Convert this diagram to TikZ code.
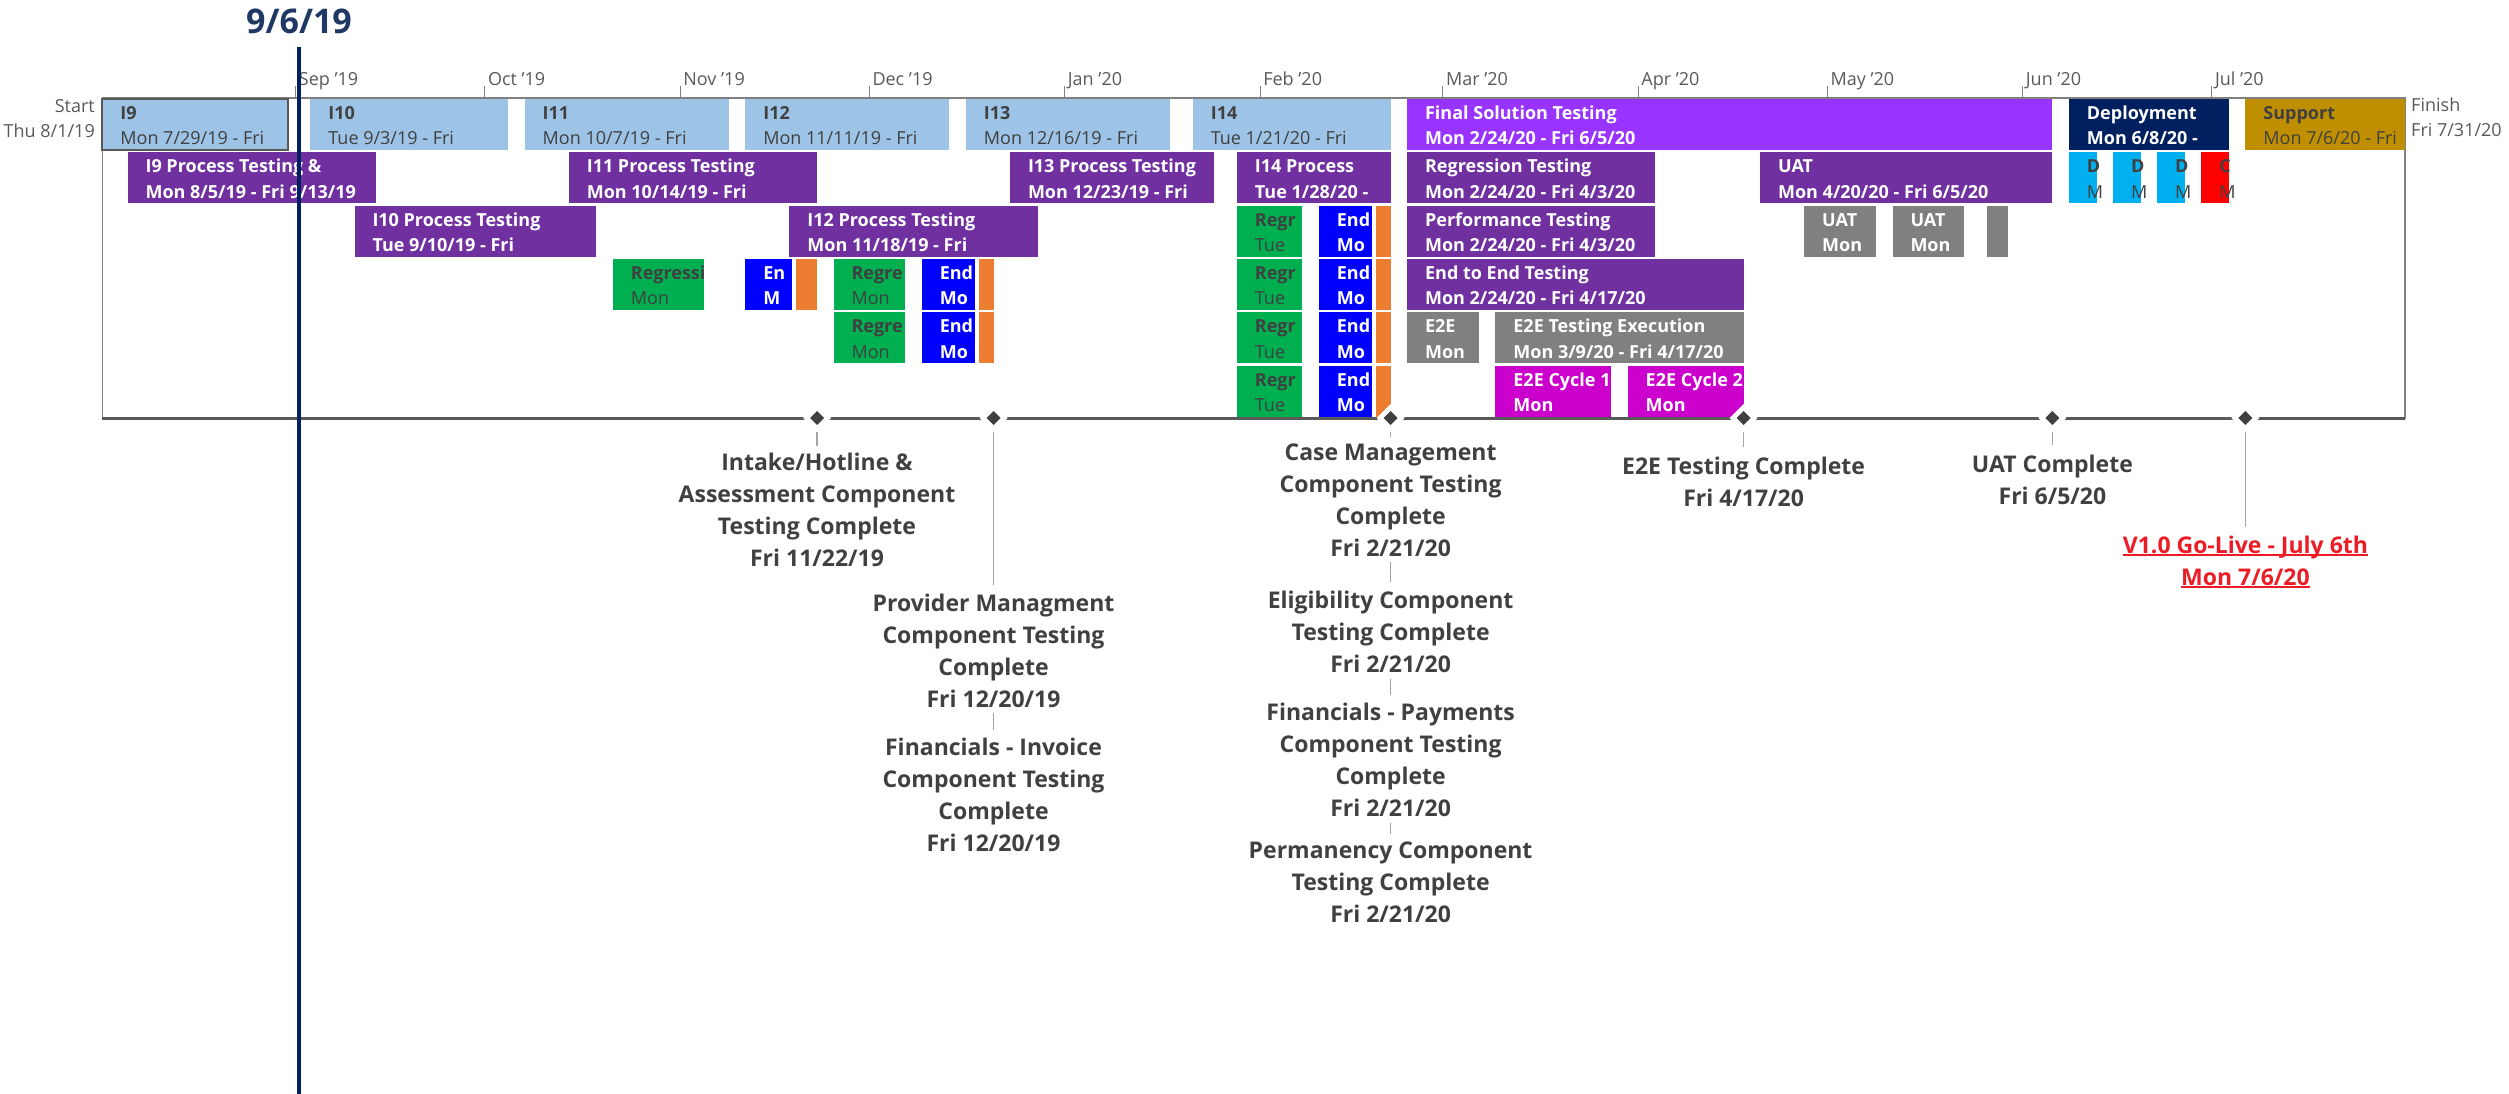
\documentclass[tikz,border=0pt]{standalone}
\usepackage{fontspec}
\setmainfont{Open Sans}
\usetikzlibrary{calc}
\definecolor{lb}{HTML}{9DC3E6}
\definecolor{pu}{HTML}{7030A0}
\definecolor{bp}{HTML}{9933FF}
\definecolor{nv}{HTML}{002060}
\definecolor{gd}{HTML}{BF8F00}
\definecolor{gn}{HTML}{00B050}
\definecolor{bl}{HTML}{0000FF}
\definecolor{og}{HTML}{ED7D31}
\definecolor{gy}{HTML}{808080}
\definecolor{mg}{HTML}{CC00CC}
\definecolor{cy}{HTML}{00B0F0}
\definecolor{rd}{HTML}{FF0000}
\definecolor{td}{HTML}{404040}
\definecolor{ax}{HTML}{595959}
\definecolor{ld}{HTML}{A6A6A6}
\definecolor{gl}{HTML}{ED1C24}
\definecolor{nowt}{HTML}{1F3864}
\newcommand\bfs{\fontsize{18}{22}\selectfont}
\newcommand\mfs{\fontsize{23}{32}\selectfont}
\newcommand\ap{\char"27\relax}
\newcommand\myul[1]{\setbox0=\hbox{#1}\rlap{\rule[-3pt]{\wd0}{1.8pt}}\box0}
\tikzset{
 gbox/.style={inner sep=0pt, outer sep=0pt, minimum height=51pt, draw=none},
 btxt/.style={inner sep=0pt, outer sep=0pt},
 lta/.style={text=td, font=\bfs\bfseries},
 ltb/.style={text=td, font=\bfs},
 wta/.style={text=white, font=\bfs\bfseries},
 wtb/.style={text=white, font=\bfs\bfseries},
 mlab/.style={inner sep=0pt, text=ax, font=\bfs},
 tickline/.style={draw=gy, line width=1.2pt},
 framebox/.style={draw=gy, line width=1.6pt, inner sep=0pt, outer sep=0pt, minimum width=2302.6pt, minimum height=320pt},
 axisline/.style={draw=ax, line width=3pt},
 leader/.style={draw=ld, line width=1.5pt},
 mslab/.style={inner sep=0pt, align=center, text=td, font=\mfs\bfseries, anchor=north},
 selb/.style={draw=ax, line width=2pt},
}
\newcommand\mkbar[8]{%
  \node[gbox, fill=#5, minimum width={#3-#2}, anchor=north west] (#1) at (#2,#4) {};
  \node[btxt, #6a, anchor=base west] (#1a) at ($(#1.north west)+(18,20.5)$) {#7};
  \node[btxt, #6b, anchor=base west] (#1b) at ($(#1.north west)+(18,46)$) {#8};
}
\newcommand\mkmonth[3]{%
  \coordinate (#1) at (#2,97);
  \draw[tickline] (#1) -- ++(0,-11);
  \node[mlab, anchor=base west] (#1l) at ($(#1)+(3,-11.5)$) {#3};
}
\newcommand\mkms[2]{%
  \coordinate (#1) at (#2,418);
  \fill[white] (#1) +(-14,0) -- +(0,-14) -- +(14,0) -- +(0,14) -- cycle;
  \fill[td] (#1) +(-7,0) -- +(0,-7) -- +(7,0) -- +(0,7) -- cycle;
}
\begin{document}
\begin{tikzpicture}[x=1pt,y=-1pt]
\useasboundingbox (0,0) rectangle (2509,1094);
% frame
\node[framebox, anchor=north west] (frame) at (102.4,98) {};
% month ticks
\mkmonth{sep}{295.7}{Sep \ap19}
\mkmonth{oct}{484.8}{Oct \ap19}
\mkmonth{nov}{680.2}{Nov \ap19}
\mkmonth{dec}{869.3}{Dec \ap19}
\mkmonth{jan}{1064.7}{Jan \ap20}
\mkmonth{feb}{1260.1}{Feb \ap20}
\mkmonth{mar}{1442.8}{Mar \ap20}
\mkmonth{apr}{1638.2}{Apr \ap20}
\mkmonth{may}{1827.3}{May \ap20}
\mkmonth{jun}{2022.7}{Jun \ap20}
\mkmonth{jul}{2211.8}{Jul \ap20}
% start / finish
\node[mlab, anchor=base east] (st1) at (95,112.5) {Start};
\node[mlab, anchor=base east] (st2) at (95,137.5) {Thu 8/1/19};
\node[mlab, anchor=base west] (fi1) at (2411,111.5) {Finish};
\node[mlab, anchor=base west] (fi2) at (2411,136.5) {Fri 7/31/20};
% row 1
\mkbar{i9}{102.4}{287.6}{99}{lb}{lt}{I9}{Mon 7/29/19 - Fri}
\draw[selb] (i9.north west) rectangle (i9.south east);
\mkbar{i10}{310.4}{508.2}{99}{lb}{lt}{I10}{Tue 9/3/19 - Fri}
\mkbar{i11}{524.7}{728.8}{99}{lb}{lt}{I11}{Mon 10/7/19 - Fri}
\mkbar{i12}{745.3}{949.4}{99}{lb}{lt}{I12}{Mon 11/11/19 - Fri}
\mkbar{i13}{965.9}{1170}{99}{lb}{lt}{I13}{Mon 12/16/19 - Fri}
\mkbar{i14}{1192.8}{1390.6}{99}{lb}{lt}{I14}{Tue 1/21/20 - Fri}
\mkbar{fst}{1407.1}{2052.4}{99}{bp}{wt}{Final Solution Testing}{Mon 2/24/20 - Fri 6/5/20}
\mkbar{dep}{2068.9}{2228.9}{99}{nv}{wt}{Deployment}{Mon 6/8/20 -}
\mkbar{sup}{2245.4}{2405}{99}{gd}{lt}{Support}{Mon 7/6/20 - Fri}
% row 2
\mkbar{ipa}{127.6}{375.8}{152.3}{pu}{wt}{I9 Process Testing \&}{Mon 8/5/19 - Fri 9/13/19}
\mkbar{ipb}{568.8}{817}{152.3}{pu}{wt}{I11 Process Testing}{Mon 10/14/19 - Fri}
\mkbar{ipc}{1010}{1214.1}{152.3}{pu}{wt}{I13 Process Testing}{Mon 12/23/19 - Fri}
\mkbar{ipd}{1236.9}{1390.6}{152.3}{pu}{wt}{I14 Process}{Tue 1/28/20 -}
\mkbar{reg}{1407.1}{1655.3}{152.3}{pu}{wt}{Regression Testing}{Mon 2/24/20 - Fri 4/3/20}
\mkbar{uat}{1760.1}{2052.4}{152.3}{pu}{wt}{UAT}{Mon 4/20/20 - Fri 6/5/20}
\mkbar{da}{2068.9}{2096.5}{152.3}{cy}{lt}{D}{M}
\mkbar{db}{2113.1}{2140.7}{152.3}{cy}{lt}{D}{M}
\mkbar{dc}{2157.2}{2184.8}{152.3}{cy}{lt}{D}{M}
\mkbar{dd}{2201.3}{2228.9}{152.3}{rd}{lt}{C}{M}
% row 3
\mkbar{ipe}{354.5}{596.4}{205.6}{pu}{wt}{I10 Process Testing}{Tue 9/10/19 - Fri}
\mkbar{ipf}{789.4}{1037.6}{205.6}{pu}{wt}{I12 Process Testing}{Mon 11/18/19 - Fri}
\mkbar{gc}{1236.9}{1302.4}{205.6}{gn}{lt}{Regr}{Tue}
\mkbar{bc}{1318.9}{1371.7}{205.6}{bl}{wt}{End}{Mo}
\mkbar{oc}{1375.6}{1390.6}{205.6}{og}{lt}{}{}
\mkbar{perf}{1407.1}{1655.3}{205.6}{pu}{wt}{Performance Testing}{Mon 2/24/20 - Fri 4/3/20}
\mkbar{ua}{1804.2}{1875.9}{205.6}{gy}{wt}{UAT}{Mon}
\mkbar{ub}{1892.5}{1964.2}{205.6}{gy}{wt}{UAT}{Mon}
\mkbar{uc}{1987}{2008.3}{205.6}{gy}{wt}{}{}
% row 4
\mkbar{ga}{612.9}{703.6}{258.9}{gn}{lt}{Regressi}{Mon}
\mkbar{ba}{745.3}{791.8}{258.9}{bl}{wt}{En}{M}
\mkbar{oa}{795.7}{817}{258.9}{og}{lt}{}{}
\mkbar{gb}{833.5}{905.3}{258.9}{gn}{lt}{Regre}{Mon}
\mkbar{bb}{921.8}{974.6}{258.9}{bl}{wt}{End}{Mo}
\mkbar{ob}{978.5}{993.5}{258.9}{og}{lt}{}{}
\mkbar{gd}{1236.9}{1302.4}{258.9}{gn}{lt}{Regr}{Tue}
\mkbar{bd}{1318.9}{1371.7}{258.9}{bl}{wt}{End}{Mo}
\mkbar{od}{1375.6}{1390.6}{258.9}{og}{lt}{}{}
\mkbar{ete}{1407.1}{1743.6}{258.9}{pu}{wt}{End to End Testing}{Mon 2/24/20 - Fri 4/17/20}
% row 5
\mkbar{ge}{833.5}{905.3}{312.2}{gn}{lt}{Regre}{Mon}
\mkbar{be}{921.8}{974.6}{312.2}{bl}{wt}{End}{Mo}
\mkbar{oe}{978.5}{993.5}{312.2}{og}{lt}{}{}
\mkbar{gf}{1236.9}{1302.4}{312.2}{gn}{lt}{Regr}{Tue}
\mkbar{bf}{1318.9}{1371.7}{312.2}{bl}{wt}{End}{Mo}
\mkbar{of}{1375.6}{1390.6}{312.2}{og}{lt}{}{}
\mkbar{eea}{1407.1}{1478.9}{312.2}{gy}{wt}{E2E}{Mon}
\mkbar{eex}{1495.4}{1743.6}{312.2}{gy}{wt}{E2E Testing Execution}{Mon 3/9/20 - Fri 4/17/20}
% row 6
\mkbar{gg}{1236.9}{1302.4}{365.5}{gn}{lt}{Regr}{Tue}
\mkbar{bg}{1318.9}{1371.7}{365.5}{bl}{wt}{End}{Mo}
\mkbar{og}{1375.6}{1390.6}{365.5}{og}{lt}{}{}
\mkbar{cya}{1495.4}{1611.2}{365.5}{mg}{wt}{E2E Cycle 1}{Mon}
\mkbar{cyb}{1627.7}{1743.6}{365.5}{mg}{wt}{E2E Cycle 2}{Mon}
% axis
\draw[axisline] (frame.south west) -- (frame.south east);
\mkms{ma}{817}
\mkms{mb}{993.5}
\mkms{mc}{1390.6}
\mkms{md}{1743.6}
\mkms{me}{2052.4}
\mkms{mf}{2245.4}
% milestone labels
\node[mslab] (la) at (817,452.5) {Intake/Hotline \&\\Assessment Component\\Testing Complete\\Fri 11/22/19};
\node[mslab] (lb) at (993.5,593.5) {Provider Managment\\Component Testing\\Complete\\Fri 12/20/19};
\node[mslab] (lc) at (993.5,737.5) {Financials - Invoice\\Component Testing\\Complete\\Fri 12/20/19};
\node[mslab] (ld) at (1390.6,443.5) {Case Management\\Component Testing\\Complete\\Fri 2/21/20};
\node[mslab] (le) at (1390.6,590.5) {Eligibility Component\\Testing Complete\\Fri 2/21/20};
\node[mslab] (lf) at (1390.6,702.5) {Financials - Payments\\Component Testing\\Complete\\Fri 2/21/20};
\node[mslab] (lg) at (1390.6,841.5) {Permanency Component\\Testing Complete\\Fri 2/21/20};
\node[mslab] (lh) at (1743.6,456.5) {E2E Testing Complete\\Fri 4/17/20};
\node[mslab] (li) at (2052.4,454.5) {UAT Complete\\Fri 6/5/20};
\node[mslab, text=gl] (lj) at (2245.4,535.5) {\myul{V1.0 Go-Live - July 6th}\\\myul{Mon 7/6/20}};
% leaders
\draw[leader] (ma |- 0,432) -- (ma |- 0,446);
\draw[leader] (mb |- 0,432) -- (mb |- 0,585);
\draw[leader] (mb |- 0,713) -- (mb |- 0,730);
\draw[leader] (mc |- 0,432) -- (mc |- 0,437);
\draw[leader] (mc |- 0,562) -- (mc |- 0,582);
\draw[leader] (mc |- 0,679) -- (mc |- 0,695);
\draw[leader] (mc |- 0,823) -- (mc |- 0,834);
\draw[leader] (md |- 0,432) -- (md |- 0,447);
\draw[leader] (me |- 0,432) -- (me |- 0,445);
\draw[leader] (mf |- 0,432) -- (mf |- 0,527);
% status date line
\node[inner sep=0pt, text=nowt, font=\fontsize{34}{40}\selectfont\bfseries, anchor=base] (nowlab) at (299,34) {9/6/19};
\coordinate (nowtop) at (299,47);
\coordinate (nowbot) at (299,1094);
\draw[draw=nv, line width=4pt] (nowtop) -- (nowbot);
\end{tikzpicture}
\end{document}
